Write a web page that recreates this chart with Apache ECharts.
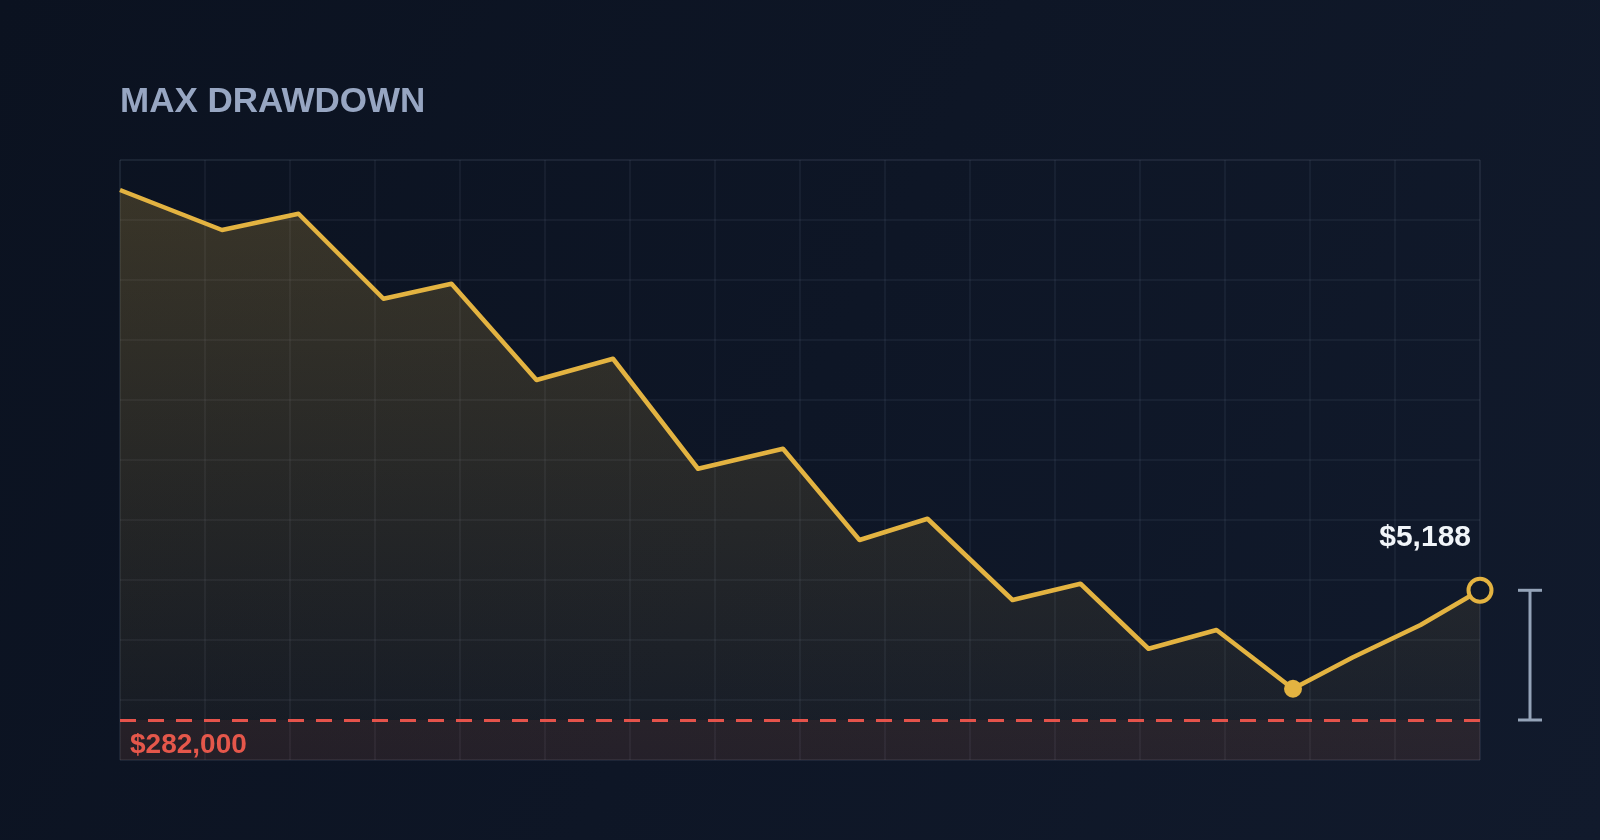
<!DOCTYPE html>
<html>
<head>
<meta charset="utf-8">
<title>Max Drawdown</title>
<script src="https://cdn.jsdelivr.net/npm/echarts@6/dist/echarts.min.js"></script>
<style>
  html, body { margin: 0; padding: 0; background: #0c1322; }
  #chart { width: 1600px; height: 840px; }
</style>
</head>
<body>
<div id="chart"></div>
<script>
// equity curve, x = trading day, y = account value ($)
var days = [0, 12, 21, 31, 39, 49, 58, 68, 78, 87, 95, 105, 113, 121, 129, 138, 145, 153, 160];
var equity = [303200, 301600, 302250, 298850, 299450, 295600, 296450, 292050, 292850, 289200,
              290050, 286800, 287450, 284850, 285600, 283250, 284500, 285800, 287188];
var floorValue = 282000;          // max drawdown floor
var valueRange = [280400, 304400];
var dayRange = [0, 160];
var gridRows = 10;

var gold = '#e3b341';
var red = '#e5534b';
var font = '"Liberation Sans", Arial, sans-serif';

var chart = echarts.init(document.getElementById('chart'));

var last = equity.length - 1;
var minIdx = 0;
equity.forEach(function(v, i) { if (v < equity[minIdx]) minIdx = i; });

function money(v) {
  return '$' + Math.round(v).toLocaleString('en-US');
}

var option = {
  animation: false,
  backgroundColor: {
    type: 'linear', x: 0, y: 0, x2: 1, y2: 1,
    colorStops: [{ offset: 0, color: '#0b1220' }, { offset: 1, color: '#111a2c' }]
  },
  title: {
    text: 'MAX DRAWDOWN',
    left: 120,
    top: 85,
    padding: 0,
    textStyle: { color: '#97a6c2', fontSize: 35, fontWeight: 'bold', fontFamily: font }
  },
  grid: {
    left: 120, top: 160, width: 1360, height: 600,
    show: true, borderColor: 'rgba(148,163,184,0.10)', borderWidth: 1
  },
  xAxis: {
    type: 'value', min: dayRange[0], max: dayRange[1], interval: 10,
    axisLine: { show: false }, axisTick: { show: false }, axisLabel: { show: false },
    splitLine: { show: true, lineStyle: { color: 'rgba(148,163,184,0.10)', width: 1.5 } }
  },
  yAxis: [{
    type: 'value', min: valueRange[0], max: valueRange[1],
    axisLine: { show: false }, axisTick: { show: false }, axisLabel: { show: false },
    splitLine: { show: false }
  }, {
    // only for the row grid lines
    type: 'value', min: 0, max: gridRows, interval: 1, position: 'left',
    axisLine: { show: false }, axisTick: { show: false }, axisLabel: { show: false },
    splitLine: { show: true, lineStyle: { color: 'rgba(148,163,184,0.10)', width: 1.5 } }
  }],
  series: [{
    type: 'line',
    data: days.map(function(d, i) { return [d, equity[i]]; }),
    symbol: 'none',
    lineStyle: { color: gold, width: 4.5, join: 'round' },
    areaStyle: {
      color: {
        type: 'linear', x: 0, y: 0, x2: 0, y2: 1,
        colorStops: [{ offset: 0, color: 'rgba(227,179,65,0.30)' }, { offset: 1, color: 'rgba(227,179,65,0.05)' }]
      }
    },
    markLine: {
      silent: true,
      symbol: 'none',
      label: { show: false },
      lineStyle: { color: red, type: [16, 12], width: 3 },
      data: [{ yAxis: floorValue }]
    },
    markArea: {
      silent: true,
      itemStyle: { color: 'rgba(229,83,75,0.08)' },
      label: {
        show: true, position: 'insideLeft', distance: 10, offset: [0, 5],
        color: red, fontSize: 28, fontWeight: 'bold', fontFamily: font,
        formatter: money(floorValue)
      },
      data: [[{ yAxis: floorValue }, { yAxis: valueRange[0] }]]
    }
  }, {
    type: 'scatter',
    z: 5,
    data: [{
      value: [days[minIdx], equity[minIdx]],
      symbolSize: 18,
      itemStyle: { color: gold, opacity: 1 }
    }, {
      value: [days[last], equity[last]],
      symbolSize: 23,
      itemStyle: { color: '#0f1828', borderColor: gold, borderWidth: 4, opacity: 1 },
      label: {
        show: true, position: 'top', align: 'right', distance: 24, offset: [-9, 0],
        color: '#f1f5f9', fontSize: 30, fontWeight: 'bold', fontFamily: font,
        formatter: function() { return money(equity[last] - floorValue); }
      }
    }]
  }]
};

chart.setOption(option);

// bracket showing the distance from last value down to the floor
var pTop = chart.convertToPixel({ xAxisIndex: 0, yAxisIndex: 0 }, [days[last], equity[last]]);
var pBot = chart.convertToPixel({ xAxisIndex: 0, yAxisIndex: 0 }, [days[last], floorValue]);
var bx = pTop[0] + 50;
var bStyle = { stroke: '#94a3b8', lineWidth: 3 };
chart.setOption({
  graphic: [
    { type: 'line', shape: { x1: bx, y1: pTop[1], x2: bx, y2: pBot[1] }, style: bStyle },
    { type: 'line', shape: { x1: bx - 12, y1: pTop[1], x2: bx + 12, y2: pTop[1] }, style: bStyle },
    { type: 'line', shape: { x1: bx - 12, y1: pBot[1], x2: bx + 12, y2: pBot[1] }, style: bStyle }
  ]
});
</script>
</body>
</html>
